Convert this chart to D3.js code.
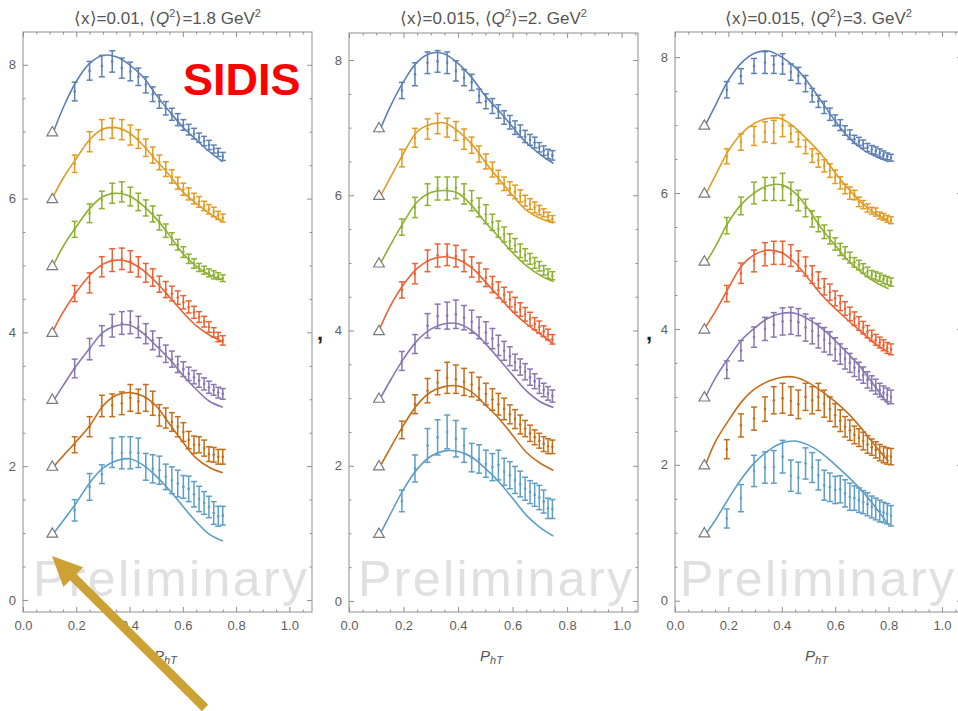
<!DOCTYPE html>
<html><head><meta charset="utf-8">
<script src="https://cdn.jsdelivr.net/npm/d3@7"></script>
<style>body{margin:0;background:#fff}svg{display:block}</style>
</head><body>
<svg id="chart" width="958" height="711"></svg>
<script>
// ---------- data ----------
const seriesColors = ["#5E81B5","#E19C24","#8FB032","#EB6235","#8778B3","#C56E1A","#5D9EC7"];
const triangleY = [7,6,5,4,3,2,1];
const triangleX = 0.11;
const xTickValues = [0,0.2,0.4,0.6,0.8,1.0];
const yTickValues = [0,2,4,6,8];
const panelTitles = [
  {x:"0.01", q:"1.8"},
  {x:"0.015", q:"2."},
  {x:"0.015", q:"3."}
];

const fitX12 = [0.11,0.15,0.2,0.25,0.3,0.35,0.4,0.45,0.5,0.55,0.6,0.65,0.7,0.75];
const fitX3 = [0.11,0.15,0.2,0.25,0.3,0.35,0.4,0.45,0.5,0.55,0.6,0.65,0.7,0.75,0.8];

// panel 1: <x>=0.01, <Q2>=1.8
const xsP1 = [0.194,0.25,0.296,0.335,0.371,0.403,0.433,0.461,0.487,0.512,0.536,0.559,0.581,0.602,0.622,0.642,0.661,0.68,0.698,0.716,0.733,0.75];
const p1Blue = [7.6,7.91,7.98,8.05,7.95,7.9,7.82,7.7,7.56,7.45,7.35,7.26,7.18,7.1,7.03,6.97,6.91,6.86,6.8,6.74,6.69,6.63];
const p1BlueErr = [.14,.14,.16,.16,.15,.14,.13,.12,.11,.1,.1,.09,.09,.08,.08,.08,.07,.07,.07,.06,.06,.06];
const p1BlueFit = [6.95,7.35,7.75,8.02,8.14,8.12,8.0,7.82,7.55,7.3,7.07,6.88,6.7,6.55];
const p1Orange = [6.52,6.85,7.03,7.05,7.03,6.95,6.89,6.76,6.65,6.54,6.44,6.33,6.23,6.14,6.07,6.0,5.95,5.89,5.84,5.8,5.75,5.71];
const p1OrangeErr = [.13,.15,.15,.15,.15,.15,.14,.13,.12,.11,.11,.1,.09,.09,.09,.08,.08,.07,.07,.07,.06,.06];
const p1OrangeFit = [6.0,6.3,6.6,6.88,7.04,7.06,6.98,6.8,6.57,6.35,6.1,5.93,5.78,5.65];
const p1Green = [5.54,5.78,5.98,6.08,6.1,6.03,5.95,5.86,5.77,5.64,5.52,5.4,5.31,5.2,5.1,5.03,4.97,4.93,4.89,4.86,4.84,4.81];
const p1GreenErr = [.12,.14,.13,.15,.15,.14,.13,.12,.12,.11,.1,.09,.08,.08,.07,.07,.06,.06,.06,.06,.05,.05];
const p1GreenFit = [4.97,5.28,5.58,5.85,6.03,6.08,6.04,5.9,5.7,5.45,5.18,4.99,4.86,4.79];
const p1Red = [4.58,4.74,4.98,5.08,5.1,5.06,4.98,4.89,4.82,4.72,4.64,4.58,4.52,4.45,4.38,4.3,4.23,4.16,4.08,4.0,3.93,3.88];
const p1RedErr = [.12,.15,.15,.17,.16,.16,.15,.14,.13,.12,.12,.11,.1,.1,.09,.09,.08,.08,.08,.07,.07,.07];
const p1RedFit = [4.0,4.3,4.6,4.85,5.02,5.08,5.05,4.93,4.75,4.53,4.3,4.1,3.96,3.86];
const p1Purple = [3.46,3.75,3.95,4.1,4.14,4.15,4.08,3.98,3.88,3.78,3.68,3.6,3.52,3.45,3.38,3.33,3.28,3.23,3.18,3.14,3.1,3.08];
const p1PurpleErr = [.14,.16,.15,.17,.17,.17,.16,.15,.14,.14,.13,.12,.12,.11,.1,.1,.1,.09,.09,.08,.08,.08];
const p1PurpleFit = [2.95,3.2,3.5,3.76,4.0,4.1,4.11,3.99,3.8,3.6,3.36,3.15,2.97,2.88];
const p1Brown = [2.32,2.59,2.9,2.91,2.94,3.02,2.97,3.02,2.94,2.76,2.72,2.66,2.59,2.51,2.39,2.32,2.32,2.27,2.18,2.17,2.14,2.14];
const p1BrownErr = [.12,.15,.16,.17,.17,.2,.18,.2,.18,.16,.15,.14,.15,.14,.13,.13,.12,.12,.11,.11,.11,.11];
const p1BrownFit = [1.97,2.15,2.37,2.6,2.9,3.06,3.1,3.05,2.9,2.63,2.36,2.12,1.98,1.9];
const p1LightBlue = [1.34,1.69,1.88,2.2,2.2,2.2,2.2,1.99,1.96,1.94,1.84,1.79,1.74,1.69,1.66,1.58,1.51,1.45,1.39,1.3,1.25,1.26];
const p1LightBlueErr = [.16,.2,.14,.22,.24,.24,.22,.2,.21,.21,.19,.2,.2,.17,.19,.19,.19,.17,.16,.17,.15,.14];
const p1LightBlueFit = [0.97,1.18,1.45,1.75,1.97,2.08,2.11,2.02,1.85,1.64,1.4,1.17,0.98,0.88];

// panel 2: <x>=0.015, <Q2>=2.
const xsP2 = [0.194,0.242,0.288,0.325,0.36,0.392,0.422,0.45,0.477,0.502,0.526,0.548,0.569,0.59,0.609,0.628,0.646,0.664,0.681,0.698,0.714,0.73,0.746];
const p2Blue = [7.55,7.79,7.96,7.98,7.96,7.84,7.74,7.67,7.47,7.39,7.32,7.24,7.15,7.08,7.0,6.95,6.87,6.82,6.78,6.71,6.66,6.61,6.59];
const p2BlueErr = [.12,.17,.16,.16,.16,.15,.12,.12,.1,.11,.11,.1,.1,.1,.1,.09,.09,.08,.08,.07,.07,.07,.07];
const p2BlueFit = [6.93,7.3,7.68,7.97,8.1,8.09,7.95,7.74,7.47,7.25,7.01,6.78,6.61,6.47];
const p2Orange = [6.55,6.85,6.98,7.06,7.0,6.95,6.83,6.74,6.61,6.5,6.38,6.27,6.17,6.1,6.05,5.99,5.92,5.87,5.82,5.78,5.74,5.69,5.65];
const p2OrangeErr = [.13,.14,.15,.15,.14,.14,.15,.12,.12,.11,.11,.1,.1,.1,.1,.09,.08,.08,.08,.07,.06,.06,.05];
const p2OrangeFit = [5.95,6.25,6.62,6.94,7.05,7.07,6.95,6.76,6.49,6.24,6.0,5.78,5.66,5.59];
const p2Green = [5.53,5.82,6.01,6.1,6.1,6.11,6.02,5.92,5.82,5.72,5.6,5.5,5.42,5.32,5.26,5.18,5.12,5.06,5.0,4.95,4.89,4.84,4.81];
const p2GreenErr = [.12,.15,.16,.17,.17,.16,.15,.15,.14,.14,.12,.12,.11,.11,.1,.1,.09,.08,.08,.07,.07,.07,.06];
const p2GreenFit = [4.95,5.25,5.6,5.9,6.04,6.07,6.03,5.85,5.6,5.38,5.15,4.96,4.82,4.72];
const p2Red = [4.6,4.84,5.03,5.11,5.12,5.1,5.03,4.94,4.86,4.78,4.68,4.6,4.53,4.46,4.38,4.31,4.24,4.17,4.1,4.05,3.99,3.94,3.87];
const p2RedErr = [.12,.15,.16,.17,.16,.16,.16,.15,.14,.13,.12,.12,.11,.11,.11,.1,.1,.1,.09,.09,.08,.08,.07];
const p2RedFit = [4.0,4.35,4.68,4.92,5.05,5.09,5.05,4.93,4.72,4.5,4.28,4.1,3.95,3.8];
const p2Purple = [3.55,3.8,4.07,4.21,4.22,4.24,4.19,4.13,4.04,3.97,3.88,3.78,3.7,3.62,3.53,3.46,3.39,3.31,3.25,3.18,3.12,3.07,3.03];
const p2PurpleErr = [.14,.14,.18,.18,.2,.21,.18,.17,.16,.16,.15,.15,.14,.14,.12,.12,.12,.12,.11,.11,.1,.1,.09];
const p2PurpleFit = [2.96,3.25,3.58,3.85,4.02,4.1,4.1,4.0,3.81,3.58,3.34,3.11,2.95,2.86];
const p2Brown = [2.53,2.91,3.11,3.23,3.3,3.28,3.24,3.2,3.14,3.06,2.98,2.91,2.84,2.76,2.69,2.61,2.55,2.48,2.42,2.37,2.32,2.29,2.28];
const p2BrownErr = [.13,.14,.18,.18,.23,.21,.2,.18,.17,.16,.16,.16,.16,.14,.14,.14,.12,.12,.11,.11,.11,.11,.1];
const p2BrownFit = [1.96,2.25,2.6,2.9,3.09,3.17,3.18,3.09,2.9,2.7,2.45,2.2,2.04,1.93];
const p2LightBlue = [1.48,1.96,2.3,2.42,2.5,2.4,2.3,2.12,2.1,2.03,1.98,2.01,1.91,1.86,1.79,1.73,1.66,1.61,1.57,1.53,1.47,1.37,1.36];
const p2LightBlueErr = [.16,.2,.25,.26,.25,.27,.25,.21,.21,.2,.2,.22,.2,.2,.2,.19,.17,.17,.17,.18,.17,.15,.14];
const p2LightBlueFit = [0.96,1.27,1.65,1.95,2.14,2.22,2.21,2.13,1.96,1.76,1.52,1.27,1.09,0.96];

// panel 3: <x>=0.015, <Q2>=3.
const xsP3 = [0.194,0.247,0.296,0.337,0.37,0.403,0.434,0.462,0.489,0.514,0.537,0.559,0.58,0.6,0.619,0.637,0.655,0.672,0.689,0.705,0.721,0.737,0.752,0.767,0.781,0.795,0.809];
const p3Blue = [7.52,7.72,7.87,7.92,7.89,7.9,7.78,7.73,7.61,7.44,7.35,7.26,7.16,7.07,7.0,6.92,6.86,6.79,6.76,6.72,6.67,6.64,6.62,6.59,6.56,6.54,6.52];
const p3BlueErr = [.12,.11,.11,.16,.13,.15,.12,.12,.12,.1,.09,.09,.09,.08,.08,.07,.07,.06,.06,.06,.06,.06,.06,.06,.06,.05,.05];
const p3BlueFit = [6.97,7.28,7.66,7.92,8.06,8.09,8.0,7.85,7.62,7.34,7.06,6.82,6.65,6.54,6.46];
const p3Orange = [6.54,6.75,6.84,6.9,6.9,6.99,6.87,6.79,6.68,6.55,6.48,6.4,6.33,6.24,6.15,6.06,6.0,5.97,5.87,5.83,5.78,5.74,5.72,5.67,5.65,5.62,5.6];
const p3OrangeErr = [.11,.12,.14,.15,.17,.16,.12,.11,.1,.1,.1,.09,.1,.1,.09,.07,.09,.07,.07,.06,.06,.05,.06,.05,.05,.05,.05];
const p3OrangeFit = [5.94,6.25,6.62,6.88,7.03,7.1,7.09,6.96,6.77,6.56,6.3,6.06,5.85,5.7,5.59];
const p3Green = [5.52,5.81,6.0,6.06,6.06,6.09,5.99,5.89,5.78,5.62,5.54,5.43,5.35,5.25,5.17,5.12,5.05,4.98,4.94,4.89,4.84,4.8,4.78,4.76,4.73,4.71,4.69];
const p3GreenErr = [.12,.13,.16,.17,.17,.2,.17,.15,.13,.12,.11,.1,.1,.09,.09,.09,.08,.07,.07,.07,.07,.06,.06,.06,.06,.06,.06];
const p3GreenFit = [4.94,5.2,5.57,5.84,6.01,6.11,6.12,6.0,5.76,5.47,5.23,5.0,4.83,4.69,4.59];
const p3Red = [4.52,4.82,5.0,5.1,5.12,5.12,5.08,5.0,4.92,4.8,4.72,4.62,4.54,4.45,4.38,4.3,4.22,4.15,4.08,4.02,3.96,3.9,3.84,3.8,3.76,3.72,3.7];
const p3RedErr = [.12,.15,.16,.17,.17,.17,.16,.15,.14,.13,.12,.12,.12,.11,.11,.1,.1,.1,.1,.09,.09,.08,.08,.08,.08,.08,.08];
const p3RedFit = [4.0,4.25,4.6,4.93,5.1,5.16,5.12,4.97,4.74,4.5,4.3,4.12,3.95,3.78,3.66];
const p3Purple = [3.4,3.68,3.88,4.0,4.06,4.11,4.12,4.1,4.02,3.97,3.9,3.84,3.79,3.7,3.63,3.56,3.5,3.43,3.38,3.32,3.25,3.2,3.15,3.1,3.06,3.03,3.0];
const p3PurpleErr = [.13,.15,.15,.17,.18,.2,.2,.2,.2,.19,.18,.18,.17,.17,.15,.15,.14,.13,.13,.12,.12,.11,.11,.1,.1,.1,.1];
const p3PurpleFit = [2.96,3.27,3.57,3.84,4.02,4.16,4.23,4.23,4.14,4.01,3.83,3.63,3.41,3.15,2.88];
const p3Brown = [2.23,2.58,2.68,2.82,2.95,2.98,2.94,2.89,3.0,2.95,3.0,2.9,2.82,2.73,2.65,2.56,2.51,2.44,2.4,2.35,2.3,2.26,2.22,2.18,2.15,2.13,2.12];
const p3BrownErr = [.14,.17,.17,.18,.2,.22,.21,.21,.2,.2,.2,.2,.18,.17,.16,.15,.15,.13,.13,.13,.13,.12,.12,.12,.12,.12,.12];
const p3BrownFit = [1.95,2.33,2.65,2.93,3.12,3.23,3.29,3.29,3.21,3.08,2.93,2.75,2.53,2.28,2.05];
const p3LightBlue = [1.21,1.51,1.91,1.96,1.97,2.12,1.84,1.81,2.02,1.96,1.85,1.7,1.67,1.63,1.64,1.58,1.53,1.51,1.48,1.45,1.42,1.38,1.35,1.32,1.3,1.28,1.25];
const p3LightBlueErr = [.14,.2,.23,.23,.24,.24,.23,.23,.23,.22,.22,.22,.21,.2,.2,.2,.2,.18,.18,.17,.17,.16,.16,.16,.15,.15,.15];
const p3LightBlueFit = [0.95,1.18,1.5,1.8,2.04,2.21,2.32,2.35,2.29,2.17,2.0,1.82,1.62,1.38,1.12];

// ---------- layout ----------
const panels = [
  {left:23, right:312, top:32, bottom:612, xMax:1.085, yMin:-0.18, yMax:8.49, wmX:33,
   xs:xsP1, fitX:fitX12, title:panelTitles[0],
   data:[p1Blue,p1Orange,p1Green,p1Red,p1Purple,p1Brown,p1LightBlue],
   err:[p1BlueErr,p1OrangeErr,p1GreenErr,p1RedErr,p1PurpleErr,p1BrownErr,p1LightBlueErr],
   fit:[p1BlueFit,p1OrangeFit,p1GreenFit,p1RedFit,p1PurpleFit,p1BrownFit,p1LightBlueFit]},
  {left:349, right:638, top:33, bottom:612, xMax:1.06, yMin:-0.163, yMax:8.4, wmX:358,
   xs:xsP2, fitX:fitX12, title:panelTitles[1],
   data:[p2Blue,p2Orange,p2Green,p2Red,p2Purple,p2Brown,p2LightBlue],
   err:[p2BlueErr,p2OrangeErr,p2GreenErr,p2RedErr,p2PurpleErr,p2BrownErr,p2LightBlueErr],
   fit:[p2BlueFit,p2OrangeFit,p2GreenFit,p2RedFit,p2PurpleFit,p2BrownFit,p2LightBlueFit]},
  {left:675, right:962, top:32, bottom:612, xMax:1.075, yMin:-0.166, yMax:8.37, wmX:680,
   xs:xsP3, fitX:fitX3, title:panelTitles[2],
   data:[p3Blue,p3Orange,p3Green,p3Red,p3Purple,p3Brown,p3LightBlue],
   err:[p3BlueErr,p3OrangeErr,p3GreenErr,p3RedErr,p3PurpleErr,p3BrownErr,p3LightBlueErr],
   fit:[p3BlueFit,p3OrangeFit,p3GreenFit,p3RedFit,p3PurpleFit,p3BrownFit,p3LightBlueFit]}
];

const svg = d3.select("#chart");
const FONT = "'Liberation Sans', Arial, sans-serif";
const frameColor = "#8e8e8e";
const labelColor = "#606060";

function styleAxis(sel, showText){
  sel.select(".domain").remove();
  sel.selectAll("line").attr("stroke", frameColor).attr("stroke-width", 1);
  sel.attr("font-family", FONT).attr("font-size", 13);
  sel.selectAll("text").attr("fill", labelColor);
  if (!showText) sel.selectAll("text").remove();
}

panels.forEach(p => {
  const g = svg.append("g");
  const x = d3.scaleLinear().domain([0, p.xMax]).range([p.left, p.right]);
  const y = d3.scaleLinear().domain([p.yMin, p.yMax]).range([p.bottom, p.top]);

  // watermark
  g.append("text").attr("x", p.wmX).attr("y", 596)
    .attr("textLength", 274).attr("lengthAdjust", "spacing")
    .attr("font-family", FONT).attr("font-size", 50).attr("fill", "#e0e0e0")
    .text("Preliminary");

  // frame
  g.append("rect").attr("x", p.left).attr("y", p.top)
    .attr("width", p.right - p.left).attr("height", p.bottom - p.top)
    .attr("fill", "none").attr("stroke", frameColor).attr("stroke-width", 1);

  const xMinor = d3.range(0, p.xMax, 0.05).filter(v => Math.abs(v/0.2 - Math.round(v/0.2)) > 1e-6);
  const yMinor = d3.range(0, p.yMax, 0.5).filter(v => v % 2 !== 0);

  g.append("g").attr("transform", `translate(0,${p.bottom})`)
    .call(d3.axisBottom(x).tickValues(xTickValues).tickSize(-5).tickPadding(9).tickFormat(d3.format(".1f")))
    .call(s => styleAxis(s, true));
  g.append("g").attr("transform", `translate(0,${p.bottom})`)
    .call(d3.axisBottom(x).tickValues(xMinor).tickSize(-2.5)).call(s => styleAxis(s, false));
  g.append("g").attr("transform", `translate(0,${p.top})`)
    .call(d3.axisTop(x).tickValues(xTickValues).tickSize(-5)).call(s => styleAxis(s, false));
  g.append("g").attr("transform", `translate(0,${p.top})`)
    .call(d3.axisTop(x).tickValues(xMinor).tickSize(-2.5)).call(s => styleAxis(s, false));
  g.append("g").attr("transform", `translate(${p.left},0)`)
    .call(d3.axisLeft(y).tickValues(yTickValues).tickSize(-5).tickPadding(7).tickFormat(d3.format("d")))
    .call(s => styleAxis(s, true));
  g.append("g").attr("transform", `translate(${p.left},0)`)
    .call(d3.axisLeft(y).tickValues(yMinor).tickSize(-2.5)).call(s => styleAxis(s, false));
  g.append("g").attr("transform", `translate(${p.right},0)`)
    .call(d3.axisRight(y).tickValues(yTickValues).tickSize(-5)).call(s => styleAxis(s, false));
  g.append("g").attr("transform", `translate(${p.right},0)`)
    .call(d3.axisRight(y).tickValues(yMinor).tickSize(-2.5)).call(s => styleAxis(s, false));

  // title
  const cx = (p.left + p.right) / 2;
  const t = g.append("text").attr("x", cx).attr("y", 24).attr("text-anchor", "middle")
    .attr("font-family", FONT).attr("font-size", 17).attr("fill", "#555");
  t.append("tspan").text(`\u27E8x\u27E9=${p.title.x}, \u27E8`);
  t.append("tspan").attr("font-style", "italic").text("Q");
  t.append("tspan").attr("font-size", 11).attr("dy", -7).text("2");
  t.append("tspan").attr("dy", 7).text(`\u27E9=${p.title.q} GeV`);
  t.append("tspan").attr("font-size", 11).attr("dy", -7).text("2");

  // x label
  const xl = g.append("text").attr("x", cx - 2).attr("y", 661).attr("text-anchor", "middle")
    .attr("font-family", FONT).attr("font-size", 15).attr("fill", "#555").attr("font-style", "italic");
  xl.append("tspan").text("P");
  xl.append("tspan").attr("font-size", 11).attr("dy", 3).text("hT");

  // series
  const line = d3.line().x(d => x(d[0])).y(d => y(d[1])).curve(d3.curveCatmullRom.alpha(0.5));
  p.data.forEach((vals, si) => {
    const col = seriesColors[si];
    const pts = p.xs.map((xv, i) => ({x: xv, v: vals[i], e: p.err[si][i]}));
    const sg = g.append("g");
    const eb = sg.selectAll("g.eb").data(pts).enter().append("g").attr("stroke", col).attr("stroke-width", 1.5);
    eb.append("line").attr("x1", d => x(d.x)).attr("x2", d => x(d.x))
      .attr("y1", d => y(d.v - d.e)).attr("y2", d => y(d.v + d.e));
    eb.append("line").attr("x1", d => x(d.x) - 3).attr("x2", d => x(d.x) + 3)
      .attr("y1", d => y(d.v - d.e)).attr("y2", d => y(d.v - d.e));
    eb.append("line").attr("x1", d => x(d.x) - 3).attr("x2", d => x(d.x) + 3)
      .attr("y1", d => y(d.v + d.e)).attr("y2", d => y(d.v + d.e));
    sg.selectAll("circle").data(pts).enter().append("circle")
      .attr("cx", d => x(d.x)).attr("cy", d => y(d.v)).attr("r", 1.3).attr("fill", col);
    const fitPts = p.fitX.map((xv, i) => [xv, p.fit[si][i]]);
    sg.append("path").attr("d", line(fitPts)).attr("fill", "none")
      .attr("stroke", col).attr("stroke-width", 1.6);
  });

  // triangles
  g.selectAll("path.tri").data(triangleY).enter().append("path")
    .attr("d", d3.symbol(d3.symbolTriangle).size(50))
    .attr("transform", d => `translate(${x(triangleX)},${y(d) + 1})`)
    .attr("fill", "#fff").attr("stroke", "#7a7a7a").attr("stroke-width", 1.2);
});

// separators (commas between list items)
[317, 646].forEach(cxp => {
  svg.append("text").attr("x", cxp).attr("y", 340).attr("font-family", FONT)
    .attr("font-size", 22).attr("font-weight", "bold").attr("fill", "#222").text(",");
});

// SIDIS label
svg.append("text").attr("x", 183).attr("y", 95).attr("font-family", FONT)
  .attr("font-size", 45).attr("font-weight", "bold").attr("fill", "#ff0000").text("SIDIS");

// arrow annotation
(function(){
  const tail = [205, 708], tip = [52, 556];
  const ang = Math.atan2(tip[1] - tail[1], tip[0] - tail[0]);
  const c = Math.cos(ang), s = Math.sin(ang);
  const px = -s, py = c;
  const headLen = 30, headHalf = 14, shaftHalf = 4.5;
  const base = [tip[0] - headLen * c, tip[1] - headLen * s];
  const pts = [
    [tail[0] + shaftHalf * px, tail[1] + shaftHalf * py],
    [base[0] + shaftHalf * px, base[1] + shaftHalf * py],
    [base[0] + headHalf * px, base[1] + headHalf * py],
    tip,
    [base[0] - headHalf * px, base[1] - headHalf * py],
    [base[0] - shaftHalf * px, base[1] - shaftHalf * py],
    [tail[0] - shaftHalf * px, tail[1] - shaftHalf * py]
  ];
  svg.append("path").attr("d", d3.line()(pts) + "Z").attr("fill", "#CDA234");
})();
</script>
</body></html>
